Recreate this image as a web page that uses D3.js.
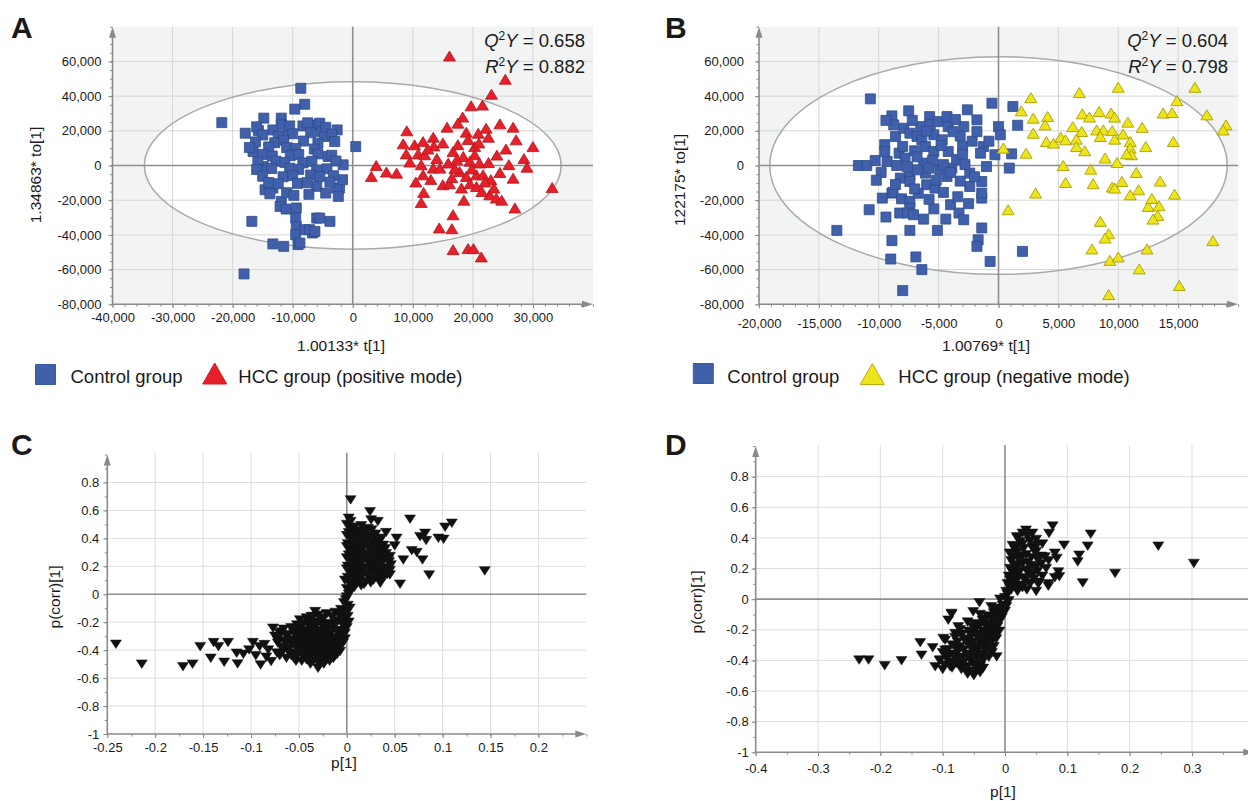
<!DOCTYPE html>
<html>
<head>
<meta charset="utf-8">
<script src="https://cdn.jsdelivr.net/npm/d3@7"></script>
<style>
body { margin: 0; background: #fff; }
svg text { font-family: "Liberation Sans", Arial, sans-serif; fill: #1a1a1a; }
</style>
</head>
<body>
<svg id="fig" width="1248" height="801"></svg>
<script>
// ---- panel A: OPLS-DA scores, positive mode ----
const controlA = [
  [-21800,24700],[-8650,44500],[-8000,35300],[-9650,32500],[-14800,27300],[-11900,27300],[-11900,23400],[-17900,18600],
  [-15700,20100],[-16600,8100],[-14900,-600],[-13300,20500],[-11500,17100],[-8300,22800],[-6600,23400],
  [-14600,-14000],[-13300,-13000],[-11900,-20700],[-12100,-23600],[-11100,-25100],[-9400,-24500],[-9500,-30300],
  [-9400,-35100],[-9500,-39900],[-8000,-37000],[-6700,-38900],[-9100,-45600],[-13300,-45200],[-11500,-46600],
  [-16800,-32200],[-18100,-62500],[-6000,-30300],[-2600,20500],[500,10900],[-1600,400],[-2200,-13000],
  [-5500,24400],[-5200,19600],[-4700,16700],[-5800,12900],[-4100,5200],[-5500,-30300],[-3800,-32200],
  [-7200,-37000],[-6300,-38000],[-8800,-44700],[-2700,-13000],[-2400,-17800],[-1700,-8200],[-6000,-12000],
  [-16000,22300],[-10500,22800],[-7500,24600],[-4500,22000],
  [-15000,17600],[-12400,16800],[-10000,18300],[-7000,18900],[-3500,18100],
  [-16200,13600],[-13000,13100],[-11500,14600],[-8200,14100],[-3000,13800],
  [-17200,10400],[-14000,10700],[-11000,10300],[-9500,9800],[-6400,9500],
  [-15000,6400],[-13400,5500],[-10400,5700],[-9000,6300],[-5800,6700],[-3500,5900],
  [-15800,2200],[-12800,2500],[-11300,1800],[-8300,1500],[-6800,2400],[-2800,2600],
  [-16000,-2300],[-13500,-1700],[-10500,-1600],[-9000,-2200],[-6000,-2600],[-4300,-1900],
  [-15000,-6200],[-11600,-6500],[-10000,-5800],[-7000,-5500],[-5500,-6300],[-3200,-5900],
  [-14000,-9800],[-12400,-10500],[-9200,-10300],[-7600,-9900],[-3800,-9600],
  [-13800,-16300],[-11000,-15700],[-9800,-17200],[-7300,-16600],[-4500,-15900]
];
const hccA = [
  [16100,63100],[25400,49700],[23100,41100],[19700,34400],[21600,34800],[18300,27900],[17500,24400],[15700,22100],
  [9000,20000],[18900,19200],[20900,18600],[22200,21500],[24500,24000],[26700,22100],[22600,16300],[27200,14800],
  [30000,10900],[8400,12500],[10300,11900],[11700,13800],[13400,16300],[13500,11300],[8900,6700],[10900,6700],
  [12000,6200],[16700,8100],[18400,5200],[20300,10900],[20300,6200],[21100,1400],[22600,1700],[15900,1400],
  [17300,3300],[11400,400],[13400,-1500],[14500,-1500],[3900,0],[5600,-3800],[7300,-4400],[3100,-6300],
  [11700,-5400],[17800,-3500],[18900,-6300],[20600,-5400],[21700,-5400],[23000,-8200],[26700,-7300],[33200,-12700],
  [15000,-11100],[16100,-10500],[18100,-13000],[19500,-10500],[11800,-15500],[11400,-21300],[16700,-28400],
  [14400,-36000],[16500,-36400],[16700,-48500],[19200,-47900],[20100,-47900],[21400,-52700],[22800,-16900],
  [23900,-18800],[27000,-24500],[20600,-12100],[14000,4000],[19500,2500],[17000,-1800],[19800,-2000],[22000,-9500],
  [24500,-4000],[16500,-7000],[13000,-8000],[10500,-9500],[24000,6000],[25500,9500],[12500,9500],[15000,13000],
  [17500,12000],[19200,15000],[21000,13000],[9500,2000],[23500,-13000],[21500,-15000],[24800,-20000],[28500,4000],
  [29000,-1000],[26000,500],[18500,-20000]
];
const statsA = ["0.658", "0.882"];   // Q2Y, R2Y
const ellipseA = [34700, 48200];     // Hotelling T2 half-axes (t, to)

// ---- panel B: OPLS-DA scores, negative mode ----
const controlB = [
  [-10700,38400],[-7500,31500],[-8900,28600],[-8750,23400],[-8600,16700],[-7900,21500],[-7400,18600],[-6500,22400],
  [-5750,28200],[-5700,23400],[-5050,25300],[-4300,28200],[-4200,22400],[-6800,16700],[-6400,14800],[-5400,17700],
  [-4700,14800],[-6100,10900],[-5400,8100],[-4200,8100],[-8300,7100],[-7800,4300],[-11700,0],[-11000,0],
  [-10300,2900],[-9300,2300],[-8500,0],[-6250,1400],[-8200,-7300],[-7400,-5400],[-7400,-9200],[-6100,-4400],
  [-6000,-11100],[-5300,-13000],[-4900,-2500],[-4300,-6300],[-3900,-1500],[-8900,-15900],[-9700,-18800],
  [-8800,-15500],[-8100,-19200],[-7400,-20700],[-7400,-24500],[-8250,-27400],[-7600,-27400],[-7100,-28400],
  [-6250,-30900],[-10800,-25500],[-9400,-29700],[-13500,-37400],[-7400,-37400],[-5100,-37400],[-8900,-43300],
  [-9000,-53900],[-6900,-52700],[-6400,-60000],[-8000,-72100],[-4000,-22600],[-3300,-27400],[-4400,-30900],
  [-2900,-31300],[-1400,-36000],[-1700,-42800],[-1800,-46600],[-700,-55300],[2000,-49500],[-1400,-18800],
  [-1400,-15900],[-2400,-12100],[-1400,-9200],[-550,35900],[1200,34000],[1600,23200],[0,22400],[150,17700],
  [1100,6700],[-300,6200],[900,-1500],[-1000,-600],[-2600,32100],[-1800,26300],[-2900,22400],[-1250,10900],
  [-1500,7100],[-2400,-4400],[-9500,12000],[-8000,11000],[-7000,8500],[-6800,5000],[-5500,3000],[-4600,500],
  [-3500,3500],[-3000,11000],[-3200,17000],[-2200,14000],[-3800,19500],[-6000,19800],[-7200,26000],[-9400,26000],
  [-3600,26500],[-4800,11500],[-5800,-1500],[-6800,-2500],[-7600,-800],[-5200,-8500],[-3200,-9000],[-4600,-15500],
  [-6700,-16000],[-5800,-19500],[-3400,-18000],[-2500,-22000],[-5400,-25000],[-2800,500],[-2000,-6500],
  [-9800,-4000],[-10200,-8500],[-8600,-11000],[-7000,-13500],[-3000,6500],[-1800,19500],[-800,14000],[-9500,8000],[-4000,-4000]
];
const hccB = [
  [10000,45100],[6750,42000],[2700,39100],[16400,45100],[14900,37400],[1900,31500],[2900,27300],[4100,28200],
  [3900,23400],[2900,18600],[7000,29800],[7600,27900],[8400,31100],[9400,30200],[9700,27900],[13750,30200],
  [14500,30500],[17400,29200],[19000,23400],[18750,20500],[6200,22400],[6950,19600],[8200,20500],[8750,20500],
  [8500,16700],[9500,20100],[10400,18200],[9700,15200],[11000,13800],[12300,10900],[14600,13800],[4000,13800],
  [4600,12900],[5200,16300],[5600,14800],[6500,15200],[6500,10900],[11000,10000],[11100,6200],[10700,6700],
  [8900,4300],[9900,1700],[2300,7100],[400,10000],[5400,0],[7700,-2100],[11500,-4000],[5600,-9800],[7900,-10500],
  [9500,-12400],[10300,-9200],[11700,-14000],[3100,-15900],[11000,-16900],[14700,-16500],[800,-25500],[9700,-13000],
  [12500,-23600],[13400,-23200],[13300,-28800],[12900,-30900],[8500,-32200],[9200,-39300],[8900,-41800],
  [7800,-48100],[12400,-48100],[17900,-43300],[9300,-54700],[10000,-52700],[11750,-59600],[15100,-69200],[9200,-74400],
  [12800,-19000],[13500,-9000],[7200,8500],[12000,22000],[10800,25000]
];
const statsB = ["0.604", "0.798"];
const ellipseB = [19100, 62700];

// ---- panel C: S-plot, positive mode  [p[1], p(corr)[1]] ----
const splotC = [
  [-0.241,-0.358],[-0.214,-0.500],[-0.171,-0.518],[-0.161,-0.500],[-0.153,-0.375],[-0.142,-0.458],[-0.139,-0.346],
  [-0.134,-0.375],[-0.128,-0.487],[-0.124,-0.346],[-0.115,-0.422],[-0.114,-0.499],[-0.102,-0.399],[-0.098,-0.346],
  [-0.091,-0.375],[-0.090,-0.506],[-0.082,-0.399],[-0.079,-0.482],[-0.077,-0.243],[-0.070,-0.279],[-0.066,-0.399],
  [-0.063,-0.458],[-0.059,-0.327],[-0.049,-0.184],[-0.037,-0.160],[-0.033,-0.124],[-0.030,-0.530],
  [-0.108,-0.430],[-0.095,-0.440],[-0.086,-0.360],[-0.084,-0.450],[-0.075,-0.300],[-0.072,-0.350],[-0.073,-0.420],
  [-0.068,-0.270],[-0.065,-0.340],[-0.062,-0.300],[-0.061,-0.390],[-0.058,-0.440],[-0.056,-0.260],[-0.055,-0.350],
  [-0.053,-0.480],[-0.052,-0.220],[-0.072,-0.330],[-0.068,-0.380],[-0.064,-0.290],[-0.060,-0.420],[-0.057,-0.360],
  [-0.055,-0.460],[-0.070,-0.440],[-0.066,-0.250],[-0.058,-0.240],[-0.062,-0.340],
  [-0.030,-0.15],[-0.021,-0.14],[-0.012,-0.13],[-0.006,-0.11],
  [-0.042,-0.17],[-0.035,-0.16],[-0.027,-0.17],[-0.016,-0.16],[-0.008,-0.15],
  [-0.045,-0.21],[-0.040,-0.19],[-0.032,-0.20],[-0.025,-0.18],[-0.018,-0.21],[-0.010,-0.19],[-0.004,-0.17],
  [-0.048,-0.23],[-0.040,-0.22],[-0.033,-0.23],[-0.026,-0.22],[-0.019,-0.23],[-0.012,-0.22],[-0.005,-0.21],
  [-0.050,-0.25],[-0.044,-0.26],[-0.036,-0.24],[-0.030,-0.26],[-0.022,-0.25],[-0.015,-0.24],[-0.008,-0.26],[-0.003,-0.23],
  [-0.055,-0.28],[-0.049,-0.27],[-0.043,-0.28],[-0.037,-0.27],[-0.031,-0.28],[-0.024,-0.27],[-0.017,-0.28],[-0.010,-0.27],[-0.004,-0.27],
  [-0.052,-0.30],[-0.046,-0.31],[-0.040,-0.29],[-0.034,-0.31],[-0.027,-0.30],[-0.020,-0.29],[-0.013,-0.31],[-0.006,-0.30],[-0.002,-0.32],
  [-0.055,-0.33],[-0.049,-0.32],[-0.043,-0.33],[-0.037,-0.32],[-0.031,-0.33],[-0.024,-0.32],[-0.017,-0.33],[-0.010,-0.32],[-0.004,-0.33],
  [-0.050,-0.35],[-0.043,-0.36],[-0.037,-0.34],[-0.030,-0.36],[-0.024,-0.35],[-0.017,-0.34],[-0.010,-0.36],[-0.004,-0.35],
  [-0.053,-0.38],[-0.046,-0.37],[-0.040,-0.38],[-0.033,-0.37],[-0.027,-0.38],[-0.020,-0.37],[-0.013,-0.38],[-0.007,-0.37],
  [-0.048,-0.40],[-0.041,-0.41],[-0.035,-0.39],[-0.028,-0.41],[-0.021,-0.40],[-0.014,-0.39],[-0.007,-0.41],
  [-0.051,-0.43],[-0.044,-0.42],[-0.038,-0.43],[-0.031,-0.42],[-0.024,-0.43],[-0.017,-0.42],[-0.010,-0.43],
  [-0.045,-0.45],[-0.039,-0.46],[-0.032,-0.44],[-0.026,-0.46],[-0.019,-0.45],[-0.012,-0.44],
  [-0.047,-0.48],[-0.042,-0.47],[-0.035,-0.48],[-0.028,-0.47],[-0.021,-0.47],[-0.014,-0.46],
  [-0.038,-0.50],[-0.030,-0.49],[-0.024,-0.50],[-0.018,-0.48],
  [-0.002,-0.28],[0.000,-0.24],[-0.003,-0.20],[0.001,-0.16],[-0.002,-0.12],[0.001,-0.08],[-0.001,-0.04],[0.002,0.00],
  [0.000,0.04],[0.003,0.08],[0.001,0.12],[0.003,0.16],[0.001,0.20],[0.004,0.24],[0.002,0.28],[0.003,0.32],
  [0.001,0.36],[0.004,0.40],[0.002,0.44],[0.003,0.48],[0.002,0.544],[0.004,0.675],
  [-0.004,-0.26],[0.002,-0.20],[-0.001,-0.14],[0.003,-0.10],[-0.003,-0.06],[0.000,-0.02],[0.004,0.02],[0.005,0.06],
  [-0.002,0.10],[0.005,0.14],[0.000,0.18],[0.006,0.22],[0.000,0.26],[0.005,0.30],[0.000,0.34],[0.006,0.38],
  [0.000,0.42],[0.005,0.46],[0.000,0.50],[0.004,0.52],
  [0.008,0.05],[0.015,0.06],
  [0.005,0.075],[0.011,0.08],[0.018,0.07],[0.025,0.08],
  [0.006,0.10],[0.012,0.11],[0.020,0.09],[0.028,0.10],[0.036,0.11],
  [0.009,0.125],[0.016,0.13],[0.024,0.12],[0.032,0.13],[0.039,0.125],
  [0.007,0.15],[0.014,0.16],[0.021,0.14],[0.028,0.16],[0.035,0.15],[0.042,0.14],
  [0.009,0.175],[0.017,0.18],[0.024,0.17],[0.031,0.18],[0.038,0.175],[0.045,0.17],
  [0.006,0.20],[0.012,0.21],[0.019,0.19],[0.026,0.21],[0.033,0.20],[0.040,0.19],[0.046,0.21],
  [0.009,0.225],[0.016,0.23],[0.023,0.22],[0.030,0.23],[0.037,0.225],[0.044,0.23],
  [0.008,0.25],[0.015,0.26],[0.022,0.24],[0.029,0.26],[0.036,0.25],[0.043,0.24],
  [0.010,0.275],[0.017,0.28],[0.024,0.27],[0.031,0.28],[0.038,0.275],[0.045,0.27],
  [0.006,0.30],[0.013,0.31],[0.020,0.29],[0.027,0.31],[0.034,0.30],[0.041,0.29],
  [0.010,0.325],[0.017,0.33],[0.025,0.32],[0.033,0.33],[0.040,0.325],
  [0.008,0.35],[0.015,0.36],[0.022,0.34],[0.030,0.36],[0.038,0.35],
  [0.010,0.375],[0.018,0.38],[0.026,0.37],[0.034,0.38],
  [0.007,0.40],[0.014,0.41],[0.021,0.39],[0.028,0.41],[0.036,0.40],
  [0.006,0.425],[0.014,0.43],[0.022,0.42],[0.030,0.43],
  [0.010,0.45],[0.018,0.44],[0.026,0.46],[0.008,0.48],[0.015,0.49],[0.022,0.47],
  [0.0243,0.591],[0.0324,0.520],[0.0254,0.532],[0.066,0.537],[0.1096,0.508],[0.1026,0.479],[0.041,0.441],
  [0.0184,0.453],[0.052,0.400],[0.050,0.346],[0.0817,0.436],[0.0765,0.412],[0.0828,0.384],[0.0956,0.400],
  [0.101,0.393],[0.0678,0.312],[0.073,0.298],[0.059,0.245],[0.079,0.245],[0.086,0.138],[0.0556,0.072],
  [0.144,0.167],[0.045,0.138],[0.035,0.079]
];

// ---- panel D: S-plot, negative mode ----
const splotD = [
  [-0.234,-0.398],[-0.219,-0.398],[-0.193,-0.435],[-0.166,-0.402],[-0.136,-0.285],[-0.134,-0.366],[-0.116,-0.318],
  [-0.099,-0.257],[-0.086,-0.093],[-0.091,-0.137],[-0.080,-0.224],[-0.112,-0.442],[-0.104,-0.398],[-0.088,-0.442],
  [-0.078,-0.420],[-0.096,-0.333],
  [-0.100,-0.46],[-0.085,-0.45],[-0.070,-0.46],[-0.058,-0.47],[-0.046,-0.45],
  [-0.060,-0.49],[-0.050,-0.50],[-0.040,-0.48],
  [-0.097,-0.43],[-0.084,-0.42],[-0.072,-0.43],[-0.060,-0.44],[-0.050,-0.43],[-0.040,-0.44],
  [-0.105,-0.40],[-0.090,-0.41],[-0.078,-0.39],[-0.066,-0.41],[-0.055,-0.40],[-0.045,-0.42],[-0.035,-0.40],
  [-0.094,-0.38],[-0.082,-0.37],[-0.069,-0.38],[-0.056,-0.37],[-0.045,-0.38],[-0.035,-0.37],[-0.026,-0.38],
  [-0.100,-0.35],[-0.088,-0.36],[-0.075,-0.34],[-0.062,-0.36],[-0.050,-0.35],[-0.040,-0.36],[-0.030,-0.34],[-0.021,-0.35],
  [-0.092,-0.33],[-0.079,-0.32],[-0.066,-0.33],[-0.054,-0.32],[-0.043,-0.33],[-0.033,-0.32],[-0.023,-0.33],
  [-0.085,-0.30],[-0.072,-0.31],[-0.060,-0.29],[-0.048,-0.31],[-0.038,-0.30],[-0.028,-0.29],[-0.018,-0.31],
  [-0.076,-0.28],[-0.063,-0.27],[-0.051,-0.28],[-0.040,-0.27],[-0.030,-0.28],[-0.020,-0.27],
  [-0.080,-0.25],[-0.066,-0.26],[-0.054,-0.24],[-0.042,-0.26],[-0.032,-0.25],[-0.022,-0.24],[-0.014,-0.26],
  [-0.069,-0.23],[-0.056,-0.22],[-0.044,-0.23],[-0.033,-0.22],[-0.023,-0.23],[-0.013,-0.22],
  [-0.072,-0.20],[-0.058,-0.21],[-0.046,-0.19],[-0.035,-0.21],[-0.025,-0.20],[-0.016,-0.19],[-0.009,-0.21],
  [-0.052,-0.18],[-0.040,-0.17],[-0.030,-0.18],[-0.021,-0.17],[-0.012,-0.18],
  [-0.060,-0.15],[-0.048,-0.16],[-0.036,-0.14],[-0.026,-0.16],[-0.017,-0.15],[-0.008,-0.14],
  [-0.032,-0.13],[-0.022,-0.12],[-0.013,-0.13],[-0.005,-0.12],
  [-0.040,-0.10],[-0.028,-0.11],[-0.018,-0.09],[-0.010,-0.10],[-0.003,-0.09],
  [-0.016,-0.08],[-0.007,-0.07],[0.000,-0.08],
  [-0.022,-0.05],[-0.012,-0.06],[-0.004,-0.04],[0.002,-0.05],
  [-0.008,0.00],[0.000,0.01],[0.006,-0.01],[0.004,0.03],
  [0.002,0.05],[0.010,0.06],[0.020,0.05],[0.035,0.06],[0.050,0.05],
  [0.008,0.075],[0.018,0.08],[0.028,0.075],
  [0.004,0.10],[0.014,0.11],[0.026,0.09],[0.040,0.10],[0.054,0.11],[0.070,0.10],
  [0.008,0.125],[0.020,0.13],[0.032,0.12],[0.046,0.13],
  [0.006,0.15],[0.018,0.16],[0.030,0.14],[0.044,0.16],[0.060,0.15],[0.080,0.14],
  [0.012,0.175],[0.024,0.18],[0.038,0.17],[0.052,0.18],
  [0.008,0.20],[0.020,0.21],[0.034,0.19],[0.050,0.21],[0.066,0.20],
  [0.014,0.225],[0.028,0.23],[0.042,0.22],[0.058,0.23],
  [0.010,0.25],[0.022,0.26],[0.036,0.24],[0.052,0.26],[0.070,0.25],
  [0.014,0.275],[0.028,0.28],[0.042,0.27],[0.058,0.28],
  [0.008,0.30],[0.020,0.31],[0.034,0.29],[0.050,0.31],[0.080,0.30],
  [0.016,0.325],[0.030,0.33],[0.046,0.32],
  [0.012,0.35],[0.028,0.36],[0.044,0.34],[0.060,0.36],
  [0.024,0.375],[0.040,0.38],
  [0.020,0.40],[0.036,0.41],[0.050,0.39],[0.028,0.43],[0.044,0.43],
  [0.0765,0.477],[0.0706,0.429],[0.0337,0.450],[0.0188,0.407],[0.1375,0.424],[0.1327,0.346],[0.0947,0.352],
  [0.119,0.287],[0.1167,0.243],[0.1247,0.106],[0.1766,0.168],[0.246,0.346],[0.303,0.233],[0.0856,0.178],
  [0.0872,0.146],[0.083,0.266],[0.0695,0.085],[0.0535,0.098],[0.040,0.102],[0.064,0.276],[0.051,0.352],
  [0.016,0.341],[0.008,0.298],[-0.0133,-0.377],[-0.041,-0.024],[-0.051,-0.083],[-0.0856,-0.098],[-0.075,-0.181],
  [-0.096,-0.268],[-0.051,-0.485],[-0.035,-0.452],[-0.064,-0.452]
];

// tick values
const scoreYTicks = [-80000,-60000,-40000,-20000,0,20000,40000,60000];
const scoreXTicksA = [-40000,-30000,-20000,-10000,0,10000,20000,30000];
const scoreXTicksB = [-20000,-15000,-10000,-5000,0,5000,10000,15000];
const corrYTicks = [-1,-0.8,-0.6,-0.4,-0.2,0,0.2,0.4,0.6,0.8];
const pXTicksC = [-0.25,-0.2,-0.15,-0.1,-0.05,0,0.05,0.1,0.15,0.2];
const pXTicksD = [-0.4,-0.3,-0.2,-0.1,0,0.1,0.2,0.3];

const svg = d3.select("#fig");
const axisColor = "#8a8a8a";
const commaFmt = d => d3.format(",")(d).replace("\u2212", "-");
const plainFmt = d => String(d);

function square(s) {
  return `M${-s/2},${-s/2}h${s}v${s}h${-s}Z`;
}
function triangle(w, h, down) {
  const k = down ? -1 : 1;
  return `M0,${-k*h/2}L${w/2},${k*h/2}L${-w/2},${k*h/2}Z`;
}
function range(a, b, step) {
  // minor tick positions
  return d3.range(Math.round(a/step), Math.round(b/step) + 1).map(i => +(i*step).toFixed(6));
}

function drawPanel(p) {
  const x = d3.scaleLinear().domain(p.xDomain).range(p.xRange);
  const y = d3.scaleLinear().domain(p.yDomain).range(p.yRange);
  const [x0, x1] = p.xRange;
  const [y0, y1] = p.yRange;
  const top = p.gridTop;
  const g = svg.append("g");

  if (p.bg) {
    g.append("rect").attr("x", x0).attr("y", y1).attr("width", x1 - x0).attr("height", y0 - y1).attr("fill", p.bg);
  }
  if (p.ellipse) {
    g.append("ellipse")
      .attr("cx", x(0)).attr("cy", y(0))
      .attr("rx", x(p.ellipse[0]) - x(0)).attr("ry", y(0) - y(p.ellipse[1]))
      .attr("fill", "#fff");
  }

  // grid
  g.append("g").selectAll("line").data(p.xGrid).join("line")
    .attr("x1", d => x(d)).attr("x2", d => x(d)).attr("y1", y0).attr("y2", top)
    .attr("stroke", p.gridColor).attr("stroke-width", 1);
  g.append("g").selectAll("line").data(p.yGrid).join("line")
    .attr("x1", x0).attr("x2", x1).attr("y1", d => y(d)).attr("y2", d => y(d))
    .attr("stroke", p.gridColor).attr("stroke-width", 1);

  if (p.ellipse) {
    g.append("ellipse")
      .attr("cx", x(0)).attr("cy", y(0))
      .attr("rx", x(p.ellipse[0]) - x(0)).attr("ry", y(0) - y(p.ellipse[1]))
      .attr("fill", "none").attr("stroke", "#a9a9a9").attr("stroke-width", 1.5);
  }

  // zero lines
  g.append("line").attr("x1", x(0)).attr("x2", x(0)).attr("y1", y0).attr("y2", top)
    .attr("stroke", "#8e8e8e").attr("stroke-width", 1.6);
  g.append("line").attr("x1", x0).attr("x2", x1).attr("y1", y(0)).attr("y2", y(0))
    .attr("stroke", "#8e8e8e").attr("stroke-width", 1.6);

  // axes
  const xAx = g.append("g").attr("transform", `translate(0,${y0})`)
    .call(d3.axisBottom(x).tickValues(p.xTicks).tickFormat(p.fmt).tickSize(4).tickPadding(p.xPad));
  const xMin = g.append("g").attr("transform", `translate(0,${y0})`)
    .call(d3.axisBottom(x).tickValues(range(p.xDomain[0], p.xDomain[1], p.xMinor)).tickFormat("").tickSize(2.5));
  const yAx = g.append("g").attr("transform", `translate(${x0},0)`)
    .call(d3.axisLeft(y).tickValues(p.yTicks).tickFormat(p.fmt).tickSize(4).tickPadding(p.yPad));
  const yMin = g.append("g").attr("transform", `translate(${x0},0)`)
    .call(d3.axisLeft(y).tickValues(range(p.yDomain[0], p.yDomain[1], p.yMinor)).tickFormat("").tickSize(2.5));
  [xAx, xMin, yAx, yMin].forEach(a => {
    a.select(".domain").remove();
    a.selectAll("line").attr("stroke", axisColor);
    a.selectAll("text").attr("font-size", 13).attr("fill", "#1f1f1f")
      .attr("font-family", '"Liberation Sans", Arial, sans-serif');
  });
  g.append("line").attr("x1", x0).attr("x2", x0).attr("y1", y0).attr("y2", y1 + 4)
    .attr("stroke", axisColor).attr("stroke-width", 1.6);
  g.append("line").attr("x1", x0).attr("x2", x1 - 4).attr("y1", y0).attr("y2", y0)
    .attr("stroke", axisColor).attr("stroke-width", 1.6);
  g.append("path").attr("d", `M${x0},${y1}L${x0 + 3.5},${y1 + 11}L${x0 - 3.5},${y1 + 11}Z`).attr("fill", axisColor);
  g.append("path").attr("d", `M${x1},${y0}L${x1 - 11},${y0 - 3.5}L${x1 - 11},${y0 + 3.5}Z`).attr("fill", axisColor);

  // points
  p.series.forEach(s => {
    g.append("g").selectAll("path").data(s.data).join("path")
      .attr("d", s.shape)
      .attr("transform", d => `translate(${x(d[0])},${y(d[1])})`)
      .attr("fill", s.fill).attr("stroke", s.stroke).attr("stroke-width", s.sw);
  });

  // axis titles
  g.append("text").attr("x", p.xTitle[1]).attr("y", p.xTitle[2]).attr("text-anchor", "middle")
    .attr("font-size", 15.5).text(p.xTitle[0]);
  g.append("text").attr("transform", `translate(${p.yTitle[1]},${p.yTitle[2]}) rotate(-90)`)
    .attr("text-anchor", "middle").attr("dy", "0.35em").attr("font-size", 15.5).text(p.yTitle[0]);

  // panel letter
  g.append("text").attr("x", p.letter[1]).attr("y", p.letter[2]).attr("font-size", 30)
    .attr("font-weight", "bold").attr("fill", "#000").text(p.letter[0]);

  // Q2Y / R2Y
  if (p.stats) {
    ["Q", "R"].forEach((L, i) => {
      const t = g.append("text").attr("x", p.statsX).attr("y", 47 + i * 26)
        .attr("text-anchor", "end").attr("font-size", 18.5);
      t.append("tspan").attr("font-style", "italic").text(L);
      t.append("tspan").attr("font-size", 12).attr("dy", -7).text("2");
      t.append("tspan").attr("font-style", "italic").attr("dy", 7).text("Y");
      t.append("tspan").text(" = " + p.stats[i]);
    });
  }
}

const blue = { fill: "#4060ab", stroke: "#2f4b8c", sw: 0.8, shape: square(10) };

drawPanel({
  xDomain: [-40000, 40000], xRange: [112.5, 593], yDomain: [-80000, 80000], yRange: [304.3, 26.7],
  gridTop: 26.7, bg: "#f2f3f3", gridColor: "#d6d6d6", ellipse: ellipseA,
  xGrid: [-30000,-20000,-10000,10000,20000,30000], yGrid: [-60000,-40000,-20000,20000,40000,60000],
  xTicks: scoreXTicksA, yTicks: scoreYTicks, fmt: commaFmt, xPad: 4, yPad: 7, xMinor: 2000, yMinor: 5000,
  series: [
    Object.assign({ data: controlA }, blue),
    { data: hccA, fill: "#e5202a", stroke: "#b3141b", sw: 0.8, shape: triangle(12, 10, false) }
  ],
  xTitle: ["1.00133* t[1]", 341, 351], yTitle: ["1.34863* to[1]", 36, 175],
  letter: ["A", 11, 38], stats: statsA, statsX: 585
});

drawPanel({
  xDomain: [-20000, 20000], xRange: [759, 1238], yDomain: [-80000, 80000], yRange: [304.3, 26.7],
  gridTop: 26.7, bg: "#f2f3f3", gridColor: "#d6d6d6", ellipse: ellipseB,
  xGrid: [-15000,-10000,-5000,5000,10000,15000], yGrid: [-60000,-40000,-20000,20000,40000,60000],
  xTicks: scoreXTicksB, yTicks: scoreYTicks, fmt: commaFmt, xPad: 10, yPad: 11, xMinor: 1000, yMinor: 5000,
  series: [
    Object.assign({ data: controlB }, blue),
    { data: hccB, fill: "#eee41a", stroke: "#a79e05", sw: 0.9, shape: triangle(12, 10, false) }
  ],
  xTitle: ["1.00769* t[1]", 986, 351], yTitle: ["122175* to[1]", 680, 180],
  letter: ["B", 665, 38], stats: statsB, statsX: 1228
});

drawPanel({
  xDomain: [-0.25, 0.25], xRange: [107.3, 586.3], yDomain: [-1, 1], yRange: [734, 454.5],
  gridTop: 453, bg: null, gridColor: "#dddddd", ellipse: null,
  xGrid: [-0.2,-0.15,-0.1,-0.05,0.05,0.1,0.15,0.2], yGrid: [-0.8,-0.6,-0.4,-0.2,0.2,0.4,0.6,0.8],
  xTicks: pXTicksC, yTicks: corrYTicks, fmt: plainFmt, xPad: 5, yPad: 4, xMinor: 0.025, yMinor: 0.1,
  series: [{ data: splotC, fill: "#111", stroke: "#111", sw: 0.5, shape: triangle(11, 8.5, true) }],
  xTitle: ["p[1]", 344, 768], yTitle: ["p(corr)[1]", 55, 597],
  letter: ["C", 11, 455]
});

drawPanel({
  xDomain: [-0.4, 0.4], xRange: [755.7, 1254.3], yDomain: [-1, 1], yRange: [752.3, 446],
  gridTop: 445, bg: null, gridColor: "#dddddd", ellipse: null,
  xGrid: [-0.3,-0.2,-0.1,0.1,0.2,0.3], yGrid: [-0.8,-0.6,-0.4,-0.2,0.2,0.4,0.6,0.8],
  xTicks: pXTicksD, yTicks: corrYTicks, fmt: plainFmt, xPad: 7, yPad: 3, xMinor: 0.05, yMinor: 0.1,
  series: [{ data: splotD, fill: "#111", stroke: "#111", sw: 0.5, shape: triangle(11, 8.5, true) }],
  xTitle: ["p[1]", 1003, 797], yTitle: ["p(corr)[1]", 697, 602],
  letter: ["D", 665, 455]
});

// legends
function legend(items) {
  const lg = svg.append("g");
  items.forEach(it => {
    lg.append("path").attr("d", it.shape).attr("transform", `translate(${it.mx},${it.my})`)
      .attr("fill", it.fill).attr("stroke", it.stroke).attr("stroke-width", 1);
    lg.append("text").attr("x", it.tx).attr("y", 383).attr("font-size", 18.5).text(it.label);
  });
}
legend([
  { label: "Control group", shape: square(20), mx: 45.5, my: 374.5, fill: "#4060ab", stroke: "#3a5aa2", tx: 70.5 },
  { label: "HCC group (positive mode)", shape: triangle(24, 21, false), mx: 214.7, my: 373.5, fill: "#e5202a", stroke: "#d01a22", tx: 238.3 }
]);
legend([
  { label: "Control group", shape: square(20), mx: 703.3, my: 373.5, fill: "#4060ab", stroke: "#3a5aa2", tx: 727.3 },
  { label: "HCC group (negative mode)", shape: triangle(24, 21, false), mx: 872.3, my: 374, fill: "#eee41a", stroke: "#b8ad10", tx: 898.3 }
]);
</script>
</body>
</html>
